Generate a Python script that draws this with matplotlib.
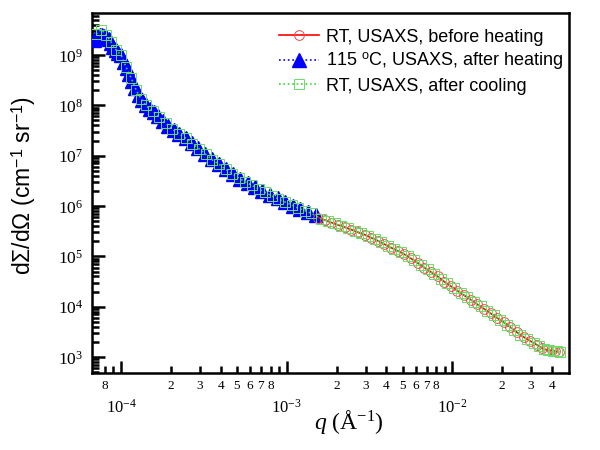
import matplotlib
matplotlib.use("Agg")
import matplotlib.pyplot as plt
from matplotlib.ticker import FixedLocator, FuncFormatter, NullFormatter, LogLocator
import numpy as np

# ---- data ----
q_blue = [6.9e-5, 7.1e-5, 7.3e-5, 7.5e-5, 7.7e-5, 7.9e-5, 8.1e-5, 8.4e-5, 8.7e-5, 9.0e-5,
          9.3e-5, 9.6e-5, 1.00e-4, 1.04e-4, 1.08e-4, 1.12e-4, 1.17e-4, 1.22e-4, 1.28e-4, 1.34e-4,
          1.41e-4, 1.49e-4, 1.58e-4, 1.68e-4, 1.80e-4, 1.93e-4, 2.08e-4, 2.25e-4, 2.45e-4, 2.67e-4,
          2.92e-4, 3.20e-4, 3.52e-4, 3.88e-4, 4.28e-4, 4.73e-4, 5.23e-4, 5.80e-4, 6.43e-4, 7.14e-4,
          7.93e-4, 8.81e-4, 9.80e-4, 1.09e-3, 1.21e-3, 1.35e-3, 1.50e-3]
I_blue = [2.0e9, 2.2e9, 2.4e9, 2.5e9, 2.45e9, 2.4e9, 2.25e9, 2.05e9, 1.75e9, 1.45e9,
          1.25e9, 1.1e9, 1.0e9, 7.4e8, 5.5e8, 4.2e8, 3.0e8, 2.2e8, 1.58e8, 1.26e8,
          1.0e8, 8.5e7, 7.2e7, 6.0e7, 4.9e7, 3.9e7, 3.2e7, 2.7e7, 2.24e7, 1.78e7,
          1.41e7, 1.10e7, 8.5e6, 6.8e6, 5.4e6, 4.3e6, 3.5e6, 2.9e6, 2.4e6, 2.0e6,
          1.66e6, 1.41e6, 1.2e6, 1.02e6, 8.9e5, 7.6e5, 6.5e5]

q_red = [1.55e-3, 1.70e-3, 1.86e-3, 2.04e-3, 2.24e-3, 2.45e-3, 2.69e-3, 2.95e-3, 3.24e-3, 3.55e-3,
         3.89e-3, 4.27e-3, 4.68e-3, 5.13e-3, 5.62e-3, 6.17e-3, 6.76e-3, 7.41e-3, 8.13e-3, 8.91e-3,
         9.77e-3, 1.07e-2, 1.17e-2, 1.29e-2, 1.41e-2, 1.55e-2, 1.70e-2, 1.86e-2, 2.04e-2, 2.24e-2,
         2.45e-2, 2.69e-2, 2.95e-2, 3.24e-2, 3.47e-2, 3.72e-2, 3.98e-2, 4.17e-2, 4.37e-2]
I_red = [5.9e5, 5.25e5, 4.7e5, 4.2e5, 3.8e5, 3.4e5, 3.0e5, 2.7e5, 2.34e5, 2.04e5,
         1.74e5, 1.48e5, 1.29e5, 1.10e5, 9.1e4, 7.4e4, 6.0e4, 4.9e4, 4.0e4, 3.16e4,
         2.57e4, 2.09e4, 1.70e4, 1.38e4, 1.12e4, 9.1e3, 7.4e3, 6.0e3, 4.9e3, 3.9e3,
         3.1e3, 2.5e3, 2.09e3, 1.74e3, 1.51e3, 1.38e3, 1.35e3, 1.32e3, 1.26e3]

q_green = [7.08e-5, 7.59e-5, 8.13e-5, 8.71e-5, 9.33e-5, 1.0e-4, 1.07e-4, 1.15e-4, 1.23e-4, 1.32e-4,
           1.41e-4, 1.55e-4, 1.70e-4, 1.86e-4, 2.04e-4, 2.24e-4, 2.45e-4, 2.69e-4, 2.95e-4, 3.24e-4,
           3.55e-4, 3.89e-4, 4.27e-4, 4.68e-4, 5.13e-4, 5.62e-4, 6.17e-4, 6.76e-4, 7.41e-4, 8.13e-4,
           8.91e-4, 9.77e-4, 1.07e-3, 1.17e-3, 1.29e-3, 1.41e-3, 1.62e-3, 1.78e-3, 1.95e-3, 2.14e-3,
           2.34e-3, 2.57e-3, 2.82e-3, 3.09e-3, 3.39e-3, 3.72e-3, 4.07e-3, 4.47e-3, 4.90e-3, 5.37e-3,
           5.89e-3, 6.46e-3, 7.08e-3, 7.76e-3, 8.51e-3, 9.33e-3, 1.02e-2, 1.12e-2, 1.23e-2, 1.35e-2,
           1.48e-2, 1.62e-2, 1.78e-2, 1.95e-2, 2.14e-2, 2.34e-2, 2.57e-2, 2.82e-2, 3.09e-2, 3.31e-2,
           3.55e-2, 3.80e-2, 4.07e-2, 4.27e-2, 4.47e-2]
I_green = [2.6e9, 3.2e9, 2.5e9, 1.8e9, 1.26e9, 1.0e9, 5.8e8, 3.5e8, 2.05e8, 1.35e8,
           1.0e8, 7.6e7, 5.9e7, 4.4e7, 3.4e7, 2.7e7, 2.24e7, 1.74e7, 1.38e7, 1.07e7,
           8.3e6, 6.8e6, 5.4e6, 4.4e6, 3.6e6, 3.0e6, 2.57e6, 2.19e6, 1.86e6, 1.58e6,
           1.38e6, 1.2e6, 1.05e6, 9.1e5, 8.1e5, 7.1e5, 5.6e5, 5.0e5, 4.5e5, 4.0e5,
           3.6e5, 3.2e5, 2.9e5, 2.5e5, 2.2e5, 1.9e5, 1.62e5, 1.38e5, 1.2e5, 1.0e5,
           8.3e4, 6.8e4, 5.5e4, 4.5e4, 3.5e4, 2.9e4, 2.3e4, 1.9e4, 1.55e4, 1.26e4,
           1.02e4, 8.3e3, 6.8e3, 5.5e3, 4.4e3, 3.5e3, 2.8e3, 2.3e3, 1.9e3, 1.66e3,
           1.45e3, 1.35e3, 1.32e3, 1.29e3, 1.26e3]

labels = ["RT, USAXS, before heating",
          "115 $^{\\mathsf{o}}$C, USAXS, after heating",
          "RT, USAXS, after cooling"]

x_major = [1e-4, 1e-3, 1e-2]
x_minor = [8e-5, 9e-5] + [m * 1e-4 for m in range(2, 10)] + [m * 1e-3 for m in range(2, 10)] \
          + [m * 1e-2 for m in range(2, 5)]
y_major = [1e3, 1e4, 1e5, 1e6, 1e7, 1e8, 1e9]

plt.rcParams['mathtext.fontset'] = 'custom'
plt.rcParams['mathtext.rm'] = 'Liberation Serif'
plt.rcParams['mathtext.it'] = 'Liberation Serif:italic'
plt.rcParams['mathtext.sf'] = 'Liberation Sans'
plt.rcParams['font.family'] = 'Liberation Sans'

fig = plt.figure(figsize=(6, 4.5), dpi=100)
ax = fig.add_axes([0.153, 0.171, 0.795, 0.800])

ax.plot(q_red, I_red, color='red', lw=1.2, ls='-', marker='o', ms=7,
        mfc='none', mec='#e84a4a', mew=0.7, label=labels[0], zorder=4)
ax.plot(q_blue, I_blue, color='blue', lw=1.2, ls=':', marker='^', ms=9.5,
        mfc='blue', mec='blue', label=labels[1], zorder=3)
ax.plot(q_green, I_green, color='#33dd33', lw=1.2, ls=':', marker='s', ms=7.5,
        mfc='none', mec='#66e066', mew=0.7, label=labels[2], zorder=5)

ax.set_xscale('log')
ax.set_yscale('log')
ax.set_xlim(6.66e-5, 0.0504)
ax.set_ylim(481, 6.8e9)

for s in ax.spines.values():
    s.set_linewidth(1.8)

ax.xaxis.set_major_locator(FixedLocator(x_major))
ax.xaxis.set_minor_locator(FixedLocator(x_minor))
ax.yaxis.set_major_locator(FixedLocator(y_major))
ax.yaxis.set_minor_locator(LogLocator(base=10, subs=np.arange(2, 10), numticks=100))

def major_fmt(v, pos):
    e = int(round(np.log10(v)))
    return "$\\mathrm{10}^{\\mathrm{%d}}$" % e

def minor_fmt(v, pos):
    e = np.floor(np.log10(v) + 1e-9)
    m = int(round(v / 10 ** e))
    if 2 <= m <= 8:
        return "$\\mathrm{%d}$" % m
    return ""

ax.xaxis.set_major_formatter(FuncFormatter(major_fmt))
ax.xaxis.set_minor_formatter(FuncFormatter(minor_fmt))
ax.yaxis.set_major_formatter(FuncFormatter(major_fmt))
ax.yaxis.set_minor_formatter(NullFormatter())

ax.tick_params(axis='both', which='both', direction='in', top=False, right=False, width=1.8)
ax.tick_params(axis='x', which='major', length=9, pad=18, labelsize=12)
ax.tick_params(axis='x', which='minor', length=5, pad=5, labelsize=9.5)
ax.tick_params(axis='y', which='major', length=9, pad=6, labelsize=12.5)
ax.tick_params(axis='y', which='minor', length=5)

ax.set_xlabel("$q$ (Å$^{\\mathrm{-1}}$)", fontsize=17, family='Liberation Serif')
ax.xaxis.set_label_coords(0.54, -0.135, transform=ax.transAxes)
ax.xaxis.label.set_va('center')
ax.set_ylabel("dΣ/dΩ (cm$^{\\mathsf{-1}}$ sr$^{\\mathsf{-1}}$)", fontsize=16.5)
ax.yaxis.set_label_coords(-0.112, 0.52, transform=ax.transAxes)

ax.legend(loc='upper right', bbox_to_anchor=(1.0, 0.972), frameon=False, fontsize=13,
          handlelength=2.2, handletextpad=0.4, labelspacing=0.3, borderaxespad=0.0,
          borderpad=0.3)

fig.savefig("out.png", dpi=100)
